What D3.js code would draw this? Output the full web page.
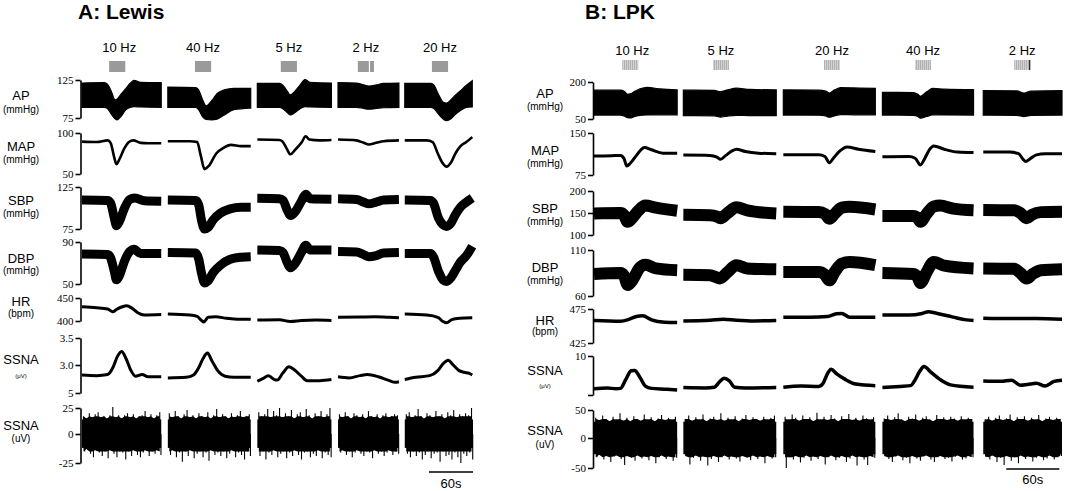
<!DOCTYPE html>
<html>
<head>
<meta charset="utf-8">
<script src="https://cdn.jsdelivr.net/npm/d3@7"></script>
<style>
  body { margin: 0; background: #fff; }
  svg { display: block; }
</style>
</head>
<body>
<div id="fig"></div>
<script>
// ---- segment timing (seconds) ----
const A_SEG_START = [0, 117, 239, 349, 440];
const A_SEG_DUR = [108, 113, 101, 83, 93];
const A_STIM_ON = [37, 37, 32, 27, 37];
const A_FREQS = ["10 Hz", "40 Hz", "5 Hz", "2 Hz", "20 Hz"];

const B_SEG_START = [0, 101, 214, 326, 440];
const B_SEG_DUR = [94, 105, 104, 103, 89];
const B_STIM_ON = [32, 33.5, 46, 37, 35];
const B_FREQS = ["10 Hz", "5 Hz", "20 Hz", "40 Hz", "2 Hz"];

// ---- tick values / labels per row: AP, MAP, SBP, DBP, HR, SSNA, raw SSNA ----
const ROW_NAMES = ["AP", "MAP", "SBP", "DBP", "HR", "SSNA", "SSNA"];
const ROW_UNITS = ["(mmHg)", "(mmHg)", "(mmHg)", "(mmHg)", "(bpm)", "(μV)", "(uV)"];
const A_TICKS = [[125, 75], [100, 50], [125, 75], [90, 50], [450, 400], [3.5, 3.0, 2.5], [25, 0, -25]];
const A_TICK_LABELS = [["125", "75"], ["100", "50"], ["125", "75"], ["90", "50"], ["450", "400"], ["3.5", "3.0", "5"], ["25", "0", "-25"]];
const B_TICKS = [[200, 50], [150, 75], [200, 150, 100], [110, 60], [475, 425], [10, 0], [50, 0, -50]];
const B_TICK_LABELS = [["200", "50"], ["150", "75"], ["200", "150", "100"], ["110", "60"], ["475", "425"], ["10", ""], ["50", "0", "-50"]];

// ---- Lewis traces: [t, value] per segment (AP: [t, high, low]) ----
const A_AP = [
  [[0,121,89],[30,121.5,89],[34,120,88],[40,110,80],[45,99,74],[48,100,72.5],[53,106,77],[60,114,86],[66,121,89],[71,124.5,90],[80,122,89.5],[108,121.5,89]],
  [[0,115.5,89],[38,115,89],[42,112,86],[47,100,77],[52,91,73],[60,98,72.5],[67,107,73.5],[77,112,79],[90,114,86],[113,114,88]],
  [[0,120.5,89],[30,120.5,89],[35,118,87],[41,110,82],[45,105.5,79],[51,110,82],[58,118,87],[65,125.5,90],[72,122,89.5],[101,121,89]],
  [[0,121.5,89],[25,121,89],[35,118.5,87.5],[42,117,86.5],[52,118.5,87.5],[62,120.5,88.5],[83,121,89]],
  [[0,120.5,89],[35,120.5,89],[39,119,88],[46,106,80],[52,96,74],[57,94.5,71.5],[63,99,74],[69,105,80],[76,111,85],[84,118,89],[92,124,89.5]]
];
const A_MAP = [
  [[0,89.5],[20,89],[35,91],[39,88],[44,70],[47,62],[51,68],[57,80],[64,89],[70,91],[80,88],[90,87.5],[108,87.5]],
  [[0,90],[30,90],[40,89],[45,72],[50,56],[56,60],[66,75],[76,82],[86,85.5],[100,84],[113,84]],
  [[0,92],[30,91.5],[34,90],[40,81],[45,74],[52,80],[60,88],[66,96],[71,92],[85,91],[101,91.5]],
  [[0,92],[25,91],[35,88],[42,86],[52,88],[62,90],[83,91]],
  [[0,91],[30,91],[38,89],[45,75],[51,64],[57,59],[63,64],[69,75],[76,84],[84,89],[92,95]]
];
const A_SBP = [
  [[0,109.5],[35,109],[39,106],[44,88],[47,79],[51,84],[58,100],[65,110],[72,112],[85,108.5],[108,108]],
  [[0,109.5],[38,109],[42,104],[46,85],[50,75],[55,77],[62,86],[72,94],[85,99],[100,101],[113,101]],
  [[0,111.5],[30,111],[35,109],[41,97],[45,91],[52,96],[60,108],[66,116.5],[72,111],[101,110.5]],
  [[0,111],[25,110],[35,107],[42,105],[52,107],[62,109.5],[83,110]],
  [[0,109.5],[35,109],[39,106],[46,88],[52,80],[57,78],[63,82],[69,92],[76,101],[84,107],[92,112]]
];
const A_DBP = [
  [[0,78.5],[35,78],[39,75],[44,62],[47,54],[51,58],[58,72],[65,81],[71,83],[80,79],[108,79]],
  [[0,80],[38,79.5],[42,74],[46,60],[50,51],[55,53],[62,61],[72,68],[85,73.5],[100,75.5],[113,76]],
  [[0,82.5],[30,82],[35,80],[41,70],[45,65.5],[52,70],[60,80],[66,87],[72,82.5],[101,82.5]],
  [[0,81],[25,80.5],[35,78],[42,76],[52,77],[62,79.5],[83,80]],
  [[0,79],[35,79],[39,76],[46,62],[52,54],[57,52.5],[63,56],[69,63],[76,71],[84,77],[92,86]]
];
const A_HR = [
  [[0,431],[20,429],[35,426],[42,420],[47,425],[55,431],[61,433],[68,428],[76,418],[85,413],[108,414]],
  [[0,415],[30,413],[40,410],[46,401],[49,398],[55,408],[65,409],[80,406],[95,404],[113,404]],
  [[0,402],[30,402.5],[45,399],[60,401],[80,402],[101,401]],
  [[0,408],[30,408.5],[50,409],[70,408],[83,407]],
  [[0,415],[30,413],[45,408],[52,399],[57,396],[64,403],[75,406],[92,407]]
];
const A_SSNA = [
  [[0,2.82],[20,2.81],[35,2.83],[42,2.95],[48,3.15],[54,3.25],[60,3.12],[66,2.92],[73,2.8],[82,2.83],[90,2.79],[108,2.79]],
  [[0,2.77],[25,2.78],[35,2.82],[42,2.95],[48,3.12],[54,3.22],[60,3.08],[68,2.9],[78,2.8],[90,2.78],[113,2.78]],
  [[0,2.71],[8,2.76],[15,2.81],[22,2.75],[27,2.73],[35,2.86],[43,2.97],[50,2.92],[60,2.8],[68,2.72],[85,2.72],[101,2.74]],
  [[0,2.79],[15,2.77],[30,2.81],[40,2.83],[55,2.79],[70,2.72],[78,2.69],[83,2.7]],
  [[0,2.74],[15,2.78],[34,2.81],[45,2.9],[52,3.02],[59,3.09],[66,3.0],[74,2.9],[81,2.87],[88,2.85],[92,2.82]]
];
const A_RAW_BASE = [14, -12];
const A_RAW_UP = [
  [17,15,20,16,19,21,16,17,15,18,26,16,18,15,18,20,16,19,15,17,18,22,16,19,15,18,21],
  [20,16,22,17,15,19,23,16,18,15,20,17,16,21,15,18,24,16,19,17,15,20,16,18,22,16,17,19],
  [21,17,19,24,16,22,18,25,16,20,17,23,15,19,21,16,24,18,15,20,17,22,16,19,25],
  [19,16,21,17,15,20,18,16,19,15,22,17,16,19,15,18,20,16,17,19,18],
  [19,21,16,18,24,17,15,20,18,16,22,17,19,15,21,18,23,16,19,17,20,18,25]
];
const A_RAW_DN = [
  [-15,-13,-17,-20,-14,-16,-19,-15,-21,-14,-17,-20,-15,-16,-22,-15,-19,-14,-18,-20,-16,-14,-19,-15,-17,-14,-18],
  [-18,-14,-20,-16,-24,-15,-19,-14,-21,-17,-15,-20,-16,-23,-14,-18,-16,-19,-15,-21,-17,-14,-20,-16,-18,-22,-15,-19],
  [-19,-15,-22,-16,-18,-14,-20,-17,-15,-21,-16,-19,-14,-18,-22,-16,-15,-20,-17,-19,-14,-21,-16,-18,-20],
  [-16,-14,-18,-15,-20,-16,-14,-17,-19,-15,-16,-21,-14,-17,-15,-19,-16,-14,-18,-15,-17],
  [-17,-20,-15,-19,-16,-22,-18,-15,-21,-17,-16,-24,-15,-19,-18,-22,-16,-20,-25,-17,-19,-16,-22]
];

// ---- LPK traces ----
const B_AP = [
  [[0,167,66],[30,167,66],[34,162,62],[38,150,55],[41,152,54],[46,162,60],[52,172,65],[60,178,66.5],[75,172,67],[94,168,67]],
  [[0,167,64],[35,166,63],[42,161,58],[50,168,62],[60,175,65],[75,170,64],[105,168,64]],
  [[0,168,66],[40,167,65.5],[48,163,62],[52,155,57],[58,168,63],[65,177,68],[80,176,67],[104,174,67]],
  [[0,158,66],[35,157,65],[40,150,60],[43,142,53],[50,160,60],[57,174,67],[70,171,66.5],[103,169,66]],
  [[0,165,66],[38,164,65],[46,155,60],[54,163,65],[89,165,66]]
];
const B_MAP = [
  [[0,109],[20,109.5],[30,110],[34,104],[37,91],[41,96],[48,110],[53,120],[57,124],[65,120],[78,114],[94,114]],
  [[0,110.5],[30,110],[38,107],[42,103],[48,110],[55,118],[60,121],[70,117],[85,114],[105,113]],
  [[0,111],[40,111],[47,108],[52,97],[57,106],[64,118],[72,125],[85,121],[104,117]],
  [[0,107.5],[30,108],[37,105],[43,93],[48,105],[53,120],[58,127],[70,121],[85,116],[103,115]],
  [[0,116],[30,116],[40,113],[45,103],[48,99],[53,104],[60,111],[70,113],[89,113]]
];
const B_SBP = [
  [[0,149],[30,150],[34,145],[38,130],[43,138],[50,155],[58,167],[70,162],[94,155]],
  [[0,146],[30,145],[38,142],[42,138],[50,150],[60,163],[72,156],[105,149]],
  [[0,153],[40,152],[47,148],[52,137],[58,148],[66,162],[75,164],[104,158]],
  [[0,143],[35,143],[40,138],[43,130],[50,148],[58,165],[65,167],[80,160],[103,156]],
  [[0,157],[35,156],[42,150],[49,138],[55,146],[65,152],[89,153]]
];
const B_DBP = [
  [[0,84],[30,85],[34,82],[38,72],[44,78],[51,90],[58,94],[70,90],[94,88]],
  [[0,83],[30,82.5],[37,80.5],[41,79],[50,86],[60,93.5],[72,90],[105,89]],
  [[0,86],[40,86],[47,83],[52,77],[58,86],[66,95],[75,97],[104,93.5]],
  [[0,85],[35,84],[40,80],[43,74],[50,86],[58,97],[70,93],[103,90]],
  [[0,90],[35,89.5],[42,85],[49,79],[56,84],[65,88],[89,89]]
];
const B_HR = [
  [[0,458],[30,457],[40,460],[48,464],[55,465],[65,459],[80,455.5],[94,455]],
  [[0,457.5],[30,458.5],[45,460],[60,458.5],[80,457.5],[105,458]],
  [[0,463],[30,463],[50,464],[60,468],[66,468.5],[75,463],[104,463]],
  [[0,466],[30,466],[45,468.5],[52,471],[60,469],[80,463],[95,459],[103,458]],
  [[0,461.5],[30,461],[60,461],[89,460]]
];
const B_SSNA = [
  [[0,1.6],[15,1.8],[25,1.6],[30,1.7],[36,4.0],[42,6.2],[46,6.3],[52,4.5],[58,2.3],[65,1.7],[80,1.5],[94,1.3]],
  [[0,1.9],[25,1.8],[35,2.0],[41,3.4],[46,4.3],[52,3.6],[58,2.0],[70,1.8],[105,1.9]],
  [[0,2.0],[20,2.3],[40,2.2],[45,3.0],[50,5.5],[54,6.6],[60,5.5],[70,4.0],[82,2.8],[104,2.4]],
  [[0,1.9],[20,2.2],[32,2.4],[36,3.5],[42,6.0],[47,7.3],[55,5.8],[65,4.0],[77,2.6],[103,2.0]],
  [[0,3.6],[20,3.5],[32,3.8],[42,2.5],[50,2.7],[60,3.0],[70,2.3],[80,3.5],[89,3.8]]
];
const B_RAW_BASE = [29, -27];
const B_RAW_UP = [
  [36,32,40,34,30,38,33,44,31,36,30,39,34,31,42,33,37,30,35,41,32,36,33,38],
  [34,40,31,37,33,42,30,35,38,32,44,31,36,33,39,30,35,41,32,37,34,31,38,33,36,40],
  [38,33,42,36,31,40,34,37,30,45,33,38,32,41,35,30,39,34,43,32,36,31,40,35,33,37],
  [35,40,32,37,44,33,30,38,35,42,31,36,39,33,30,41,34,37,32,38,35,31,39,33,36,34],
  [33,38,31,36,40,32,35,42,30,37,34,39,31,36,33,41,30,35,38,32,36,34]
];
const B_RAW_DN = [
  [-32,-28,-36,-30,-40,-31,-29,-35,-45,-30,-33,-38,-29,-34,-31,-37,-30,-42,-32,-29,-35,-31,-38,-33],
  [-30,-44,-33,-29,-38,-31,-46,-35,-30,-40,-32,-29,-36,-31,-34,-39,-30,-33,-37,-29,-35,-31,-42,-30,-34,-32],
  [-50,-32,-36,-30,-41,-33,-29,-38,-31,-35,-30,-44,-32,-29,-37,-33,-30,-40,-34,-29,-46,-31,-36,-45,-30,-33],
  [-30,-35,-40,-31,-29,-37,-33,-42,-30,-34,-38,-31,-29,-36,-40,-32,-30,-35,-33,-39,-31,-29,-36,-34,-30,-32],
  [-31,-36,-29,-40,-33,-45,-30,-38,-32,-42,-29,-35,-31,-39,-33,-30,-37,-34,-29,-36,-32,-30]
];

// ---- layout (pixels) ----
const WIDTH = 1065, HEIGHT = 491;

const PANELS = [
  {
    title: "A: Lewis", titleX: 78, titleY: 18.5,
    axisX: 80.5, xRange: [82, 473], total: 533,
    segStart: A_SEG_START, segDur: A_SEG_DUR,
    stimOn: A_STIM_ON, stimDur: 22, freqs: A_FREQS,
    freqY: 51.5, stimY: [61, 72], stripes: false,
    mark: {index: 3, frac: 0.72, color: "#fff"},
    labelX: 21,
    bar: {t0: 473, t1: 533, y: 472, textY: 488},
    ticks: A_TICKS, tickLabels: A_TICK_LABELS,
    ap: A_AP, lines: [A_MAP, A_SBP, A_DBP, A_HR, A_SSNA],
    rawBase: A_RAW_BASE, rawCap: [17, -15], rawUp: A_RAW_UP, rawDn: A_RAW_DN,
    rows: [
      {tickPx: [80, 118], labelY: 100, unitY: 113},
      {tickPx: [133, 174], labelY: 150.5, unitY: 162.5, w: 2.6},
      {tickPx: [187, 229], labelY: 205, unitY: 216.5, w: 9},
      {tickPx: [242, 284], labelY: 262.5, unitY: 274, w: 9},
      {tickPx: [298, 321], labelY: 306, unitY: 316.5, w: 3},
      {tickPx: [338, 365, 393], labelY: 364, unitY: 377.5, w: 3},
      {tickPx: [408, 434, 463], labelY: 430, unitY: 442}
    ]
  },
  {
    title: "B: LPK", titleX: 585, titleY: 18.5,
    axisX: 593, xRange: [594, 1062], total: 529,
    segStart: B_SEG_START, segDur: B_SEG_DUR,
    stimOn: B_STIM_ON, stimDur: 18, freqs: B_FREQS,
    freqY: 55, stimY: [60, 70], stripes: true,
    mark: {index: 4, frac: 0.97, color: "#222"},
    labelX: 545,
    bar: {t0: 466, t1: 526, y: 469, textY: 484},
    ticks: B_TICKS, tickLabels: B_TICK_LABELS,
    ap: B_AP, lines: [B_MAP, B_SBP, B_DBP, B_HR, B_SSNA],
    rawBase: B_RAW_BASE, rawCap: [34, -32], rawUp: B_RAW_UP, rawDn: B_RAW_DN,
    rows: [
      {tickPx: [82, 119], labelY: 97.5, unitY: 110},
      {tickPx: [133, 175], labelY: 155, unitY: 167, w: 3},
      {tickPx: [191, 213, 235], labelY: 212.5, unitY: 225, w: 12},
      {tickPx: [250, 296], labelY: 271.5, unitY: 283.5, w: 12},
      {tickPx: [309, 343], labelY: 325, unitY: 335, w: 3.5},
      {tickPx: [356, 395], labelY: 375, unitY: 388, w: 3.5},
      {tickPx: [410, 438, 468], labelY: 435, unitY: 448}
    ]
  }
];

const SANS = "'Liberation Sans', Arial, sans-serif";
const SERIF = "'Liberation Serif', 'Times New Roman', serif";

const svg = d3.select("#fig")
  .append("svg")
  .attr("width", WIDTH)
  .attr("height", HEIGHT);

// striped fill for the LPK stimulus blocks
const pat = svg.append("defs").append("pattern")
  .attr("id", "stripes")
  .attr("patternUnits", "userSpaceOnUse")
  .attr("width", 2).attr("height", 4);
pat.append("rect").attr("width", 2).attr("height", 4).attr("fill", "#d2d2d2");
pat.append("rect").attr("width", 0.8).attr("height", 4).attr("fill", "#a9a9a9");

PANELS.forEach((P) => {
  const g = svg.append("g");
  const X = d3.scaleLinear().domain([0, P.total]).range(P.xRange);

  // title
  g.append("text")
    .attr("x", P.titleX).attr("y", P.titleY)
    .attr("font-family", SANS).attr("font-size", 21).attr("font-weight", "bold")
    .text(P.title);

  // stimulus blocks and frequency labels
  P.freqs.forEach((f, i) => {
    const t0 = P.segStart[i] + P.stimOn[i];
    const x0 = X(t0), x1 = X(t0 + P.stimDur);
    g.append("rect")
      .attr("x", x0).attr("y", P.stimY[0])
      .attr("width", x1 - x0).attr("height", P.stimY[1] - P.stimY[0])
      .attr("fill", P.stripes ? "url(#stripes)" : "#9a9a9a");
    if (i === P.mark.index) {
      const xm = X(t0 + P.stimDur * P.mark.frac);
      g.append("line")
        .attr("x1", xm).attr("x2", xm)
        .attr("y1", P.stimY[0]).attr("y2", P.stimY[1])
        .attr("stroke", P.mark.color).attr("stroke-width", 1.2);
    }
    g.append("text")
      .attr("x", (x0 + x1) / 2 + (i === 0 ? 2 : 0)).attr("y", P.freqY)
      .attr("text-anchor", "middle")
      .attr("font-family", SANS).attr("font-size", 13)
      .text(f);
  });

  P.rows.forEach((R, r) => {
    const Y = d3.scaleLinear().domain(P.ticks[r]).range(R.tickPx);

    // axis bracket
    const ax = g.append("g")
      .attr("transform", "translate(" + P.axisX + ",0)")
      .call(d3.axisLeft(Y)
        .tickValues(P.ticks[r])
        .tickSize(5)
        .tickSizeOuter(0)
        .tickPadding(2)
        .tickFormat((d, i) => P.tickLabels[r][i]));
    ax.selectAll("path, line").attr("stroke", "#000").attr("stroke-width", 1.6);
    ax.selectAll("text")
      .attr("font-family", SERIF).attr("font-size", 11).attr("fill", "#000");
    ax.attr("font-family", null).attr("font-size", null);

    // row labels
    g.append("text")
      .attr("x", P.labelX).attr("y", R.labelY)
      .attr("text-anchor", "middle")
      .attr("font-family", SANS).attr("font-size", 13)
      .text(ROW_NAMES[r]);
    g.append("text")
      .attr("x", P.labelX).attr("y", R.unitY)
      .attr("text-anchor", "middle")
      .attr("font-family", SANS).attr("font-size", r === 5 ? 6 : 10)
      .text(ROW_UNITS[r]);

    P.segStart.forEach((s, k) => {
      if (r === 0) {
        // pulsatile AP: envelope band
        const area = d3.area()
          .x((d) => X(s + d[0]))
          .y0((d) => Y(d[2]))
          .y1((d) => Y(d[1]))
          .curve(d3.curveMonotoneX);
        g.append("path").datum(P.ap[k])
          .attr("d", area).attr("fill", "#000")
          .attr("stroke", "#000").attr("stroke-width", 1.2);
      } else if (r === 6) {
        // raw SSNA: dense core, jagged edge, needle spikes
        const dur = P.segDur[k];
        const up = P.rawUp[k], dn = P.rawDn[k];
        const step = dur / up.length;
        const xs = (i) => X(s + (i + 0.5) * step);
        g.append("rect")
          .attr("x", X(s)).attr("y", Y(P.rawBase[0]))
          .attr("width", X(s + dur) - X(s))
          .attr("height", Y(P.rawBase[1]) - Y(P.rawBase[0]))
          .attr("fill", "#000");
        const env = d3.area()
          .x((d, i) => xs(i))
          .y0((d, i) => Y(Math.max(dn[i], P.rawCap[1])))
          .y1((d) => Y(Math.min(d, P.rawCap[0])))
          .curve(d3.curveLinear);
        g.append("path").datum(up)
          .attr("d", env).attr("fill", "#000");
        const spikes = g.append("g");
        spikes.selectAll(".up")
          .data(up)
          .enter()
          .append("line")
            .attr("x1", (d, i) => xs(i)).attr("x2", (d, i) => xs(i))
            .attr("y1", Y(0)).attr("y2", (d) => Y(d))
            .attr("stroke", "#000").attr("stroke-width", 1.1);
        spikes.selectAll(".dn")
          .data(dn)
          .enter()
          .append("line")
            .attr("x1", (d, i) => xs(i) + 1.2).attr("x2", (d, i) => xs(i) + 1.2)
            .attr("y1", Y(0)).attr("y2", (d) => Y(d))
            .attr("stroke", "#000").attr("stroke-width", 1.1);
      } else {
        const line = d3.line()
          .x((d) => X(s + d[0]))
          .y((d) => Y(d[1]))
          .curve(d3.curveMonotoneX);
        g.append("path").datum(P.lines[r - 1][k])
          .attr("d", line).attr("fill", "none")
          .attr("stroke", "#000").attr("stroke-width", R.w)
          .attr("stroke-linejoin", "round");
      }
    });
  });

  // 60 s scale bar
  g.append("line")
    .attr("x1", X(P.bar.t0)).attr("x2", X(P.bar.t1))
    .attr("y1", P.bar.y).attr("y2", P.bar.y)
    .attr("stroke", "#000").attr("stroke-width", 1.6);
  g.append("text")
    .attr("x", (X(P.bar.t0) + X(P.bar.t1)) / 2).attr("y", P.bar.textY)
    .attr("text-anchor", "middle")
    .attr("font-family", SANS).attr("font-size", 13)
    .text("60s");
});
</script>
</body>
</html>
